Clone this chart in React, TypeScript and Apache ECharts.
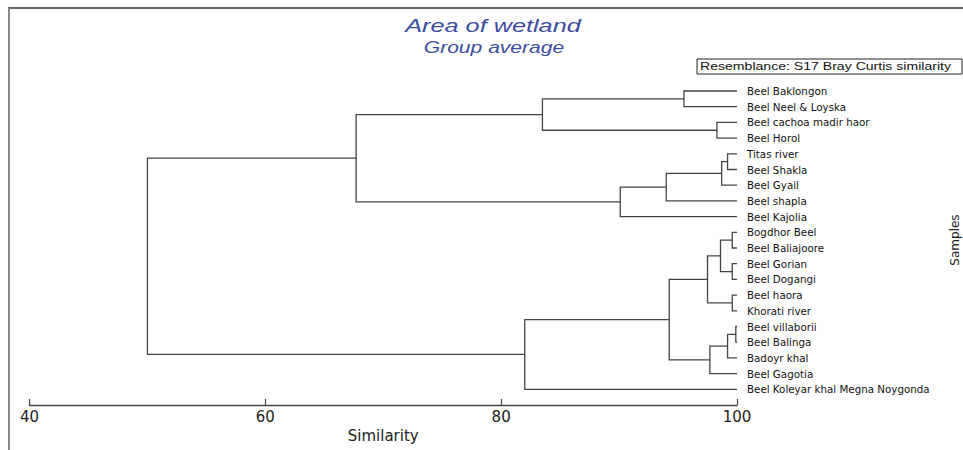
import React, { useEffect, useRef } from 'react';
import * as echarts from 'echarts';

// Leaves in dendrogram order (top to bottom)
const leafNames = [
  'Beel Baklongon',
  'Beel Neel & Loyska',
  'Beel cachoa madir haor',
  'Beel Horol',
  'Titas river',
  'Beel Shakla',
  'Beel Gyail',
  'Beel shapla',
  'Beel Kajolia',
  'Bogdhor Beel',
  'Beel Baliajoore',
  'Beel Gorian',
  'Beel Dogangi',
  'Beel haora',
  'Khorati river',
  'Beel villaborii',
  'Beel Balinga',
  'Badoyr khal',
  'Beel Gagotia',
  'Beel Koleyar khal Megna Noygonda',
];

// Merge steps: node ids 0..19 are leaves, merge k creates node 20 + k
const mergeLeft = [0, 2, 20, 4, 23, 24, 25, 22, 9, 11, 28, 13, 30, 15, 33, 34, 32, 36, 27];
const mergeRight = [1, 3, 21, 5, 6, 7, 8, 26, 10, 12, 29, 14, 31, 16, 17, 18, 35, 19, 37];
const mergeSimilarity = [95.5, 98.3, 83.5, 99.2, 98.7, 94.0, 90.1, 67.7, 99.6, 99.6, 98.6, 99.6, 97.5, 99.9, 99.2, 97.7, 94.25, 82.0, 50.0];

const xTicks = [40, 60, 80, 100];
const leafSimilarity = 100;

const FONT = '"DejaVu Sans", Arial, sans-serif';
const ARIAL = '"Liberation Sans", Arial, sans-serif';

function buildSegments() {
  const h: number[] = leafNames.map(() => leafSimilarity);
  const y: number[] = leafNames.map((_, i) => i);
  const segs: number[][] = [];
  mergeSimilarity.forEach((s, k) => {
    const a = mergeLeft[k];
    const b = mergeRight[k];
    segs.push([h[a], y[a], h[b], y[b], s]);
    h.push(s);
    y.push((y[a] + y[b]) / 2);
  });
  return segs;
}

export default function App() {
  const ref = useRef<HTMLDivElement>(null);
  useEffect(() => {
    if (!ref.current) return;
    const chart = echarts.init(ref.current, undefined, { renderer: 'svg' });
    const segs = buildSegments();
    chart.setOption({
      animation: false,
      backgroundColor: '#ffffff',
      grid: { left: 29.5, right: 226, top: 91, bottom: 45, containLabel: false },
      xAxis: {
        type: 'value',
        min: xTicks[0],
        max: xTicks[xTicks.length - 1],
        interval: xTicks[1] - xTicks[0],
        axisLine: { show: true, onZero: false, lineStyle: { color: '#444', width: 1.3 } },
        axisTick: { show: true, inside: true, length: 6, lineStyle: { color: '#444', width: 1.2 } },
        axisLabel: { margin: 4, fontSize: 15, fontFamily: FONT, color: '#222' },
        splitLine: { show: false },
        name: 'Similarity',
        nameLocation: 'middle',
        nameGap: 23,
        nameTextStyle: { fontSize: 15, fontFamily: FONT, color: '#222' },
      },
      yAxis: {
        type: 'value',
        min: 0,
        max: leafNames.length,
        interval: 1,
        inverse: true,
        position: 'right',
        axisLine: { show: false },
        axisTick: { show: false },
        splitLine: { show: false },
        axisLabel: {
          margin: 10,
          fontSize: 10.3,
          fontFamily: FONT,
          color: '#111',
          formatter: (v: number) => leafNames[v] ?? '',
        },
      },
      series: [
        {
          type: 'custom',
          encode: { x: [0, 2, 4], y: [1, 3] },
          data: segs,
          renderItem: (_params: any, api: any) => {
            const a = api.coord([api.value(0), api.value(1)]);
            const am = api.coord([api.value(4), api.value(1)]);
            const bm = api.coord([api.value(4), api.value(3)]);
            const b = api.coord([api.value(2), api.value(3)]);
            return {
              type: 'polyline',
              shape: { points: [a, am, bm, b] },
              style: { stroke: '#444', lineWidth: 1.3, fill: 'none' },
            };
          },
        },
      ],
      graphic: [
        { type: 'line', shape: { x1: 8, y1: 8, x2: 963, y2: 8 }, style: { stroke: '#333', lineWidth: 1.5 } },
        { type: 'line', shape: { x1: 9, y1: 8, x2: 9, y2: 450 }, style: { stroke: '#888', lineWidth: 2 } },
        {
          type: 'text', x: 493, y: 26, scaleX: 1.33,
          style: { text: 'Area of wetland', fontStyle: 'italic', fontSize: 19, fontFamily: ARIAL, fill: '#3b4da0', align: 'center', verticalAlign: 'middle' },
        },
        {
          type: 'text', x: 494, y: 47, scaleX: 1.24,
          style: { text: 'Group average', fontStyle: 'italic', fontSize: 17, fontFamily: ARIAL, fill: '#3b4da0', align: 'center', verticalAlign: 'middle' },
        },
        { type: 'rect', shape: { x: 697, y: 59, width: 265, height: 15 }, style: { stroke: '#222', lineWidth: 1, fill: '#fff' } },
        {
          type: 'text', x: 700, y: 67, scaleX: 1.28,
          style: { text: 'Resemblance: S17 Bray Curtis similarity', fontSize: 11, fontFamily: ARIAL, fill: '#111', align: 'left', verticalAlign: 'middle' },
        },
        {
          type: 'text', x: 955, y: 240, rotation: Math.PI / 2,
          style: { text: 'Samples', fontSize: 12, fontFamily: FONT, fill: '#222', align: 'center', verticalAlign: 'middle' },
        },
      ],
    });
    return () => chart.dispose();
  }, []);
  return <div ref={ref} style={{ position: 'fixed', left: 0, top: 0, width: 963, height: 450 }} />;
}
